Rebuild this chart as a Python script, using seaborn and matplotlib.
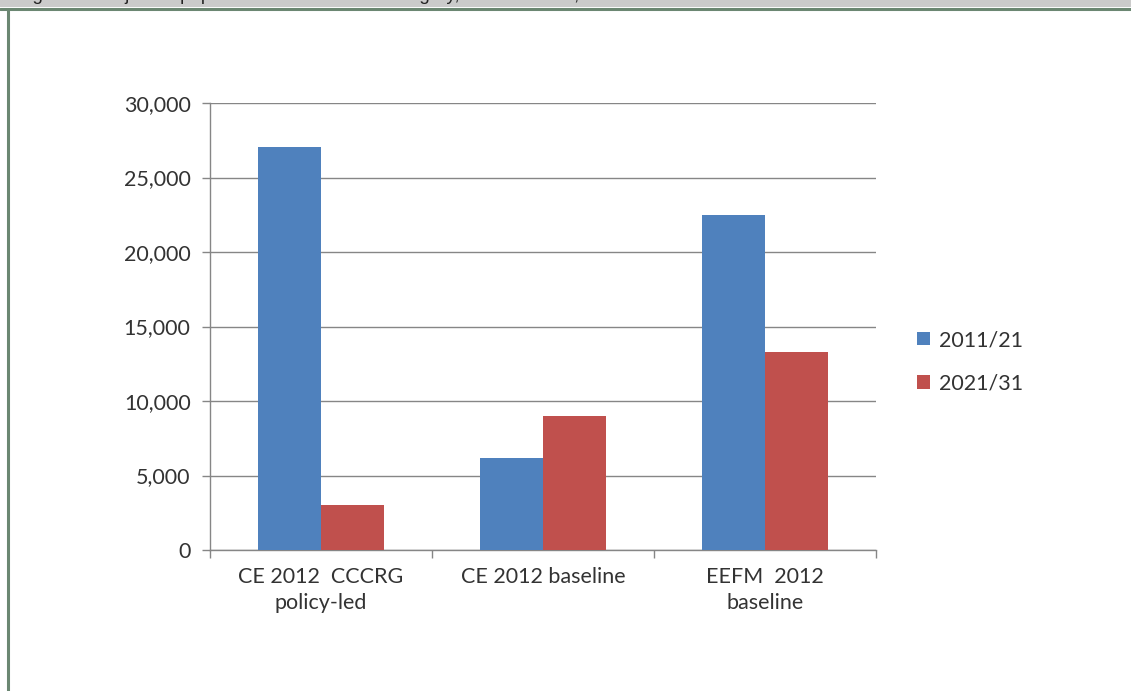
import matplotlib
matplotlib.use("Agg")
import matplotlib.pyplot as plt
import seaborn as sns
import pandas as pd
from matplotlib.lines import Line2D
from matplotlib.patches import Rectangle
from matplotlib.ticker import FuncFormatter, FixedLocator

categories = ["CE 2012  CCCRG\npolicy-led", "CE 2012 baseline", "EEFM  2012\nbaseline"]
series_names = ["2011/21", "2021/31"]
values_2011_21 = [27050, 6200, 22500]
values_2021_31 = [3050, 9000, 13300]
yticks = [0, 5000, 10000, 15000, 20000, 25000, 30000]
caption = "Figure 3: Projected population increase sub-category, from 2011/21, 2021/31 forecast intervals"

sns.set_theme(style="white")
plt.rcParams["font.family"] = ["Lato", "DejaVu Sans"]

df = pd.DataFrame({
    "category": categories * 2,
    "period": [series_names[0]] * 3 + [series_names[1]] * 3,
    "value": values_2011_21 + values_2021_31,
})

W, H = 1131, 691
FS = 15.5
fig = plt.figure(figsize=(W / 100, H / 100), dpi=100)
fig.patch.set_facecolor("white")

# header strip and frame
fig.add_artist(Rectangle((0, 1 - 7 / H), 1, 7 / H, transform=fig.transFigure,
                         facecolor="#cbcbcb", edgecolor="none", zorder=0))
fig.add_artist(Line2D([0, 1], [1 - 8.5 / H] * 2, transform=fig.transFigure,
                      color="#6b8772", lw=2.2))
fig.add_artist(Line2D([7.5 / W] * 2, [0, 1 - 8.5 / H], transform=fig.transFigure,
                      color="#6b8772", lw=2.2))
fig.text(0.015, 1 + 4 / H, caption, fontsize=13.5, color="#222222",
         ha="left", va="center", family=["Liberation Sans", "DejaVu Sans"])

ax = fig.add_axes([210 / W, 1 - 550 / H, (876 - 210) / W, (550 - 103) / H])
sns.barplot(data=df, x="category", y="value", hue="period", ax=ax,
            palette=["#4F81BD", "#C0504D"], width=0.57, saturation=1,
            errorbar=None, zorder=3, linewidth=0, edgecolor="none")

ax.set_ylim(0, 30000)
ax.set_xlim(-0.5, 2.5)
ax.set_yticks(yticks)
ax.yaxis.set_major_formatter(FuncFormatter(lambda v, p: f"{int(v):,}"))
ax.yaxis.grid(True, color="#868686", lw=1.0, zorder=0)
ax.set_axisbelow(True)
ax.set_xlabel("")
ax.set_ylabel("")

for s in ["top", "right"]:
    ax.spines[s].set_visible(False)
ax.spines["left"].set_color("#868686")
ax.spines["bottom"].set_color("#868686")
ax.spines["left"].set_linewidth(1.0)
ax.spines["bottom"].set_linewidth(1.0)

ax.tick_params(axis="y", direction="out", length=6, width=1, color="#868686",
               labelsize=FS, labelcolor="#333333", pad=8, left=True)
ax.tick_params(axis="x", which="major", length=0, labelsize=FS,
               labelcolor="#333333", pad=12)
ax.xaxis.set_minor_locator(FixedLocator([-0.5, 0.5, 1.5, 2.5]))
ax.tick_params(axis="x", which="minor", direction="out", length=6, width=1,
               color="#868686", bottom=True)
for lab in ax.get_xticklabels():
    lab.set_linespacing(1.4)
    lab.set_va("top")

handles, labels = ax.get_legend_handles_labels()
ax.legend(handles, labels, loc="center left",
          bbox_to_anchor=(898 / W, 1 - 362 / H), bbox_transform=fig.transFigure,
          frameon=False, fontsize=FS, handlelength=0.6, handleheight=0.6,
          handletextpad=0.4, labelspacing=1.1, labelcolor="#333333")

fig.savefig("out.png", dpi=100)
